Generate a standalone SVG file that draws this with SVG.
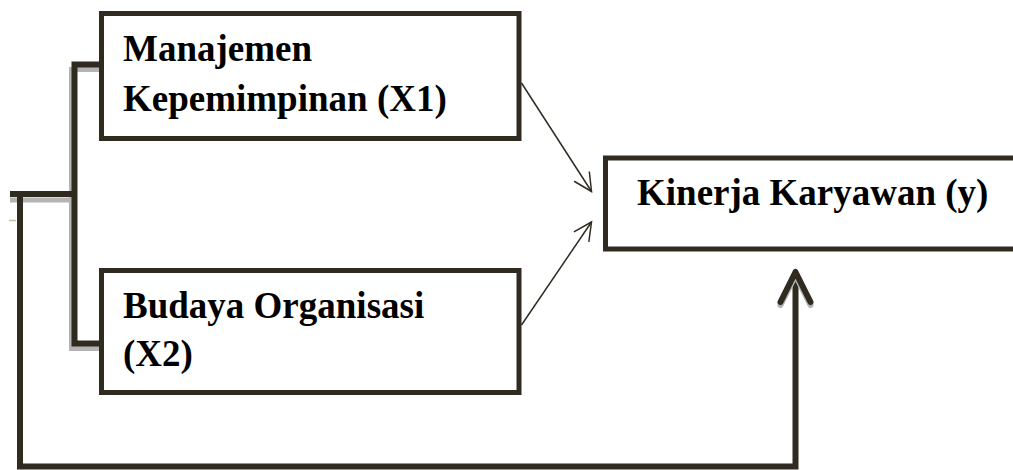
<svg xmlns="http://www.w3.org/2000/svg" width="1013" height="470" viewBox="0 0 1013 470">
<style>
.box{fill:#fff;stroke:#2f2b21;stroke-width:5}
.lbl{font-family:"Liberation Serif","Times New Roman",serif;font-weight:bold;font-size:37px;fill:#000}
.thick{fill:none;stroke:#2f2b21;stroke-width:6;stroke-linejoin:miter}
.shadow{fill:none;stroke:#b4b4b4;stroke-width:5}
.thin{fill:none;stroke:#2f2b21;stroke-width:1.5}
</style>
<defs>
<marker id="open" markerUnits="userSpaceOnUse" viewBox="-25 -15 30 30" refX="0" refY="0" markerWidth="30" markerHeight="30" orient="auto" overflow="visible">
<path d="M-18,-9 L0,0 L-18,9" fill="none" stroke="#2f2b21" stroke-width="1.5"/>
</marker>
</defs>
<g id="connectors">
<path class="shadow" d="M101,69.5 H71.5 V348.5 H101"/>
<path class="shadow" d="M10,200 H74"/>
<path class="thick" d="M101,64.5 H74.5 V343.5 H101"/>
<path class="thick" d="M10,194 H74.5"/>
<path class="thick" d="M20,191 V466.5 H795.5 V274"/>
<path d="M780.5,305 L795.5,275 L810.5,305" fill="none" stroke="#b4b4b4" stroke-width="6" stroke-linecap="round" stroke-linejoin="round"/>
<path d="M780.5,302 L795.5,272 L810.5,302" fill="none" stroke="#2f2b21" stroke-width="6" stroke-linecap="round" stroke-linejoin="round"/>
<line class="thin" x1="521.5" y1="83" x2="591.5" y2="191.5" marker-end="url(#open)"/>
<line class="thin" x1="521.5" y1="325" x2="591.5" y2="222" marker-end="url(#open)"/>
<line x1="9" y1="220.5" x2="16" y2="220.5" stroke="#c9c39a" stroke-width="1.5"/>
</g>
<g id="node-x1">
<rect class="box" x="101.5" y="13.5" width="417.5" height="125"/>
<text class="lbl" x="123" y="60.5">Manajemen</text>
<text class="lbl" x="123" y="110.5">Kepemimpinan (X1)</text>
</g>
<g id="node-x2">
<rect class="box" x="101.5" y="270.5" width="417.5" height="122"/>
<text class="lbl" x="123" y="318">Budaya Organisasi</text>
<text class="lbl" x="123" y="366">(X2)</text>
</g>
<g id="node-y">
<rect class="box" x="605.5" y="158" width="420" height="91"/>
<text class="lbl" x="637" y="205">Kinerja Karyawan (y)</text>
</g>
</svg>
